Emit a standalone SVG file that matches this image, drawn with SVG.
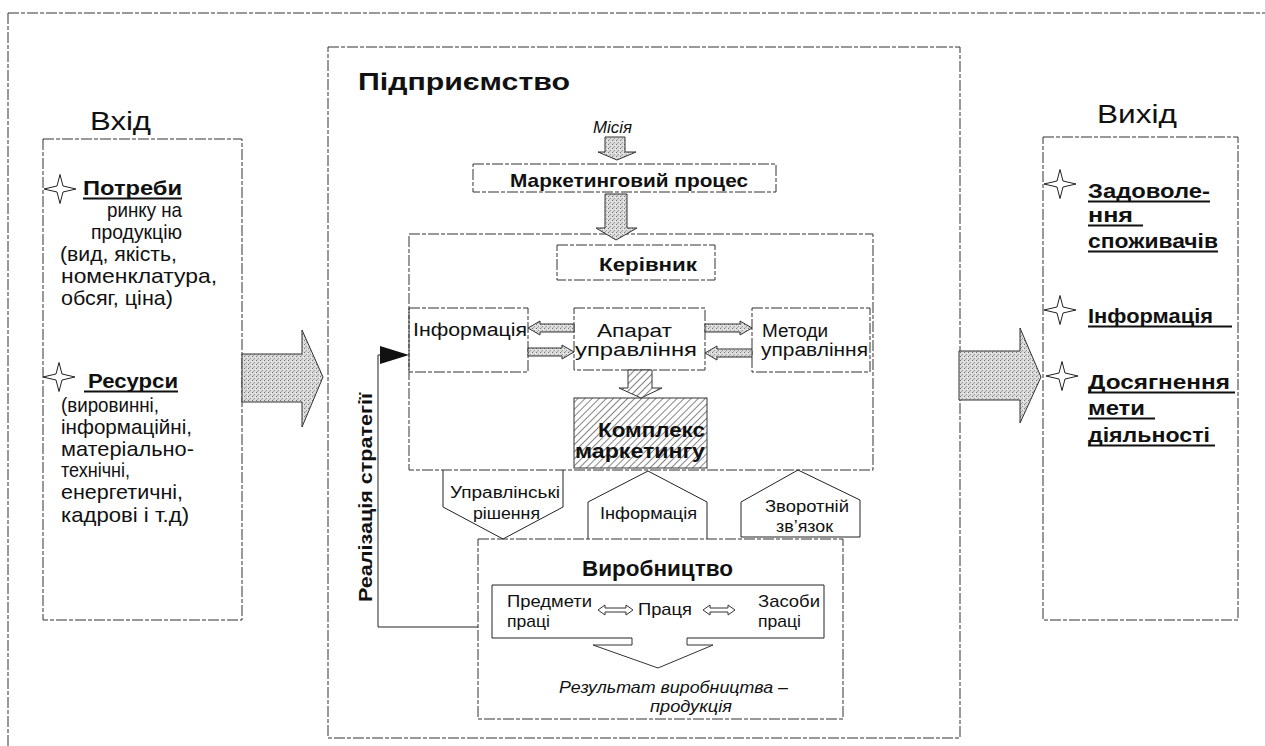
<svg xmlns="http://www.w3.org/2000/svg" xmlns:xlink="http://www.w3.org/1999/xlink" width="1265" height="746" viewBox="0 0 1265 746">
<style>
text{font-family:"Liberation Sans",Arial,sans-serif;fill:#111}
.b{font-weight:bold}
.i{font-style:italic}
.box{fill:none;stroke:#333;stroke-width:1;stroke-dasharray:11 2 4 2}
.wbox{fill:#fff;stroke:#333;stroke-width:1;stroke-dasharray:11 2 4 2}
.ln{fill:none;stroke:#222;stroke-width:1}
.ul{stroke:#111;stroke-width:2}
.star{fill:#fff;stroke:#222;stroke-width:1}
.stip{fill:url(#stip);stroke:#333;stroke-width:1}
.hol{fill:#fff;stroke:#333;stroke-width:1}
</style>
<defs>
<pattern id="stip" width="4" height="4" patternUnits="userSpaceOnUse">
<rect width="4" height="4" fill="#dadada"/>
<rect x="0" y="0" width="1" height="1" fill="#777"/>
<rect x="2" y="2" width="1" height="1" fill="#999"/>
<rect x="3" y="1" width="1" height="1" fill="#f4f4f4"/>
<rect x="1" y="3" width="1" height="1" fill="#aaa"/>
</pattern>
<pattern id="hatch" width="5" height="5" patternUnits="userSpaceOnUse" patternTransform="rotate(45)">
<rect width="5" height="5" fill="#fff"/>
<line x1="0" y1="0" x2="0" y2="5" stroke="#333" stroke-width="1.2"/>
</pattern>
<path id="star" class="star" d="M0,-14.5 L3,-3 L16,0 L3,3 L0,14.5 L-3,3 L-16,0 L-3,-3 Z"/>
</defs>
<rect width="1265" height="746" fill="#fff"/>
<g id="frame">
<line class="box" x1="8" y1="13" x2="1265" y2="13"/>
<line class="box" x1="8" y1="13" x2="8" y2="746"/>
</g>

<g id="input">
<text x="90" y="130" font-size="25" textLength="61" lengthAdjust="spacingAndGlyphs">Вхід</text>
<rect class="box" x="43" y="139" width="199" height="481"/>
<use xlink:href="#star" x="60" y="189"/>
<text class="b" x="83" y="195" font-size="21" textLength="99" lengthAdjust="spacingAndGlyphs">Потреби</text>
<line class="ul" x1="83" y1="198.5" x2="182" y2="198.5"/>
<text x="107" y="217" font-size="21" textLength="75" lengthAdjust="spacingAndGlyphs">ринку на</text>
<text x="91" y="239" font-size="21" textLength="91" lengthAdjust="spacingAndGlyphs">продукцію</text>
<text x="60" y="261" font-size="21" textLength="117" lengthAdjust="spacingAndGlyphs">(вид, якість,</text>
<text x="61" y="283" font-size="21" textLength="156" lengthAdjust="spacingAndGlyphs">номенклатура,</text>
<text x="61" y="305" font-size="21" textLength="112" lengthAdjust="spacingAndGlyphs">обсяг, ціна)</text>
<use xlink:href="#star" x="59" y="377"/>
<text class="b" x="88" y="388" font-size="21" textLength="90" lengthAdjust="spacingAndGlyphs">Ресурси</text>
<line class="ul" x1="84" y1="391.5" x2="178" y2="391.5"/>
<text x="61" y="412" font-size="21" textLength="98" lengthAdjust="spacingAndGlyphs">(вировинні,</text>
<text x="61" y="434" font-size="21" textLength="131" lengthAdjust="spacingAndGlyphs">інформаційні,</text>
<text x="61" y="456" font-size="21" textLength="133" lengthAdjust="spacingAndGlyphs">матеріально-</text>
<text x="61" y="477" font-size="21" textLength="69" lengthAdjust="spacingAndGlyphs">технічні,</text>
<text x="61" y="499" font-size="21" textLength="122" lengthAdjust="spacingAndGlyphs">енергетичні,</text>
<text x="61" y="522" font-size="21" textLength="128" lengthAdjust="spacingAndGlyphs">кадрові і т.д)</text>
</g>

<g id="enterprise">
<rect class="box" x="328" y="47" width="632" height="691"/>
<text class="b" x="358" y="90" font-size="24" textLength="212" lengthAdjust="spacingAndGlyphs">Підприємство</text>
</g>

<g id="mission">
<text class="i" x="593" y="133" font-size="17" textLength="39" lengthAdjust="spacingAndGlyphs">Місія</text>
</g>

<g id="marketing-process">
<rect class="box" x="473" y="164" width="303" height="28"/>
<text class="b" x="510" y="187" font-size="19" textLength="238" lengthAdjust="spacingAndGlyphs">Маркетинговий процес</text>
</g>

<g id="management">
<rect class="box" x="409" y="234" width="464" height="236"/>
</g>

<g id="kerivnyk">
<rect class="box" x="557" y="245" width="158" height="35"/>
<text class="b" x="599" y="271" font-size="19" textLength="98" lengthAdjust="spacingAndGlyphs">Керівник</text>
</g>

<g id="informatsiya">
<rect class="box" x="409" y="308" width="119" height="64"/>
<text x="413" y="336" font-size="18" textLength="114" lengthAdjust="spacingAndGlyphs">Інформація</text>
</g>

<g id="aparat">
<rect class="box" x="574" y="308" width="131" height="62"/>
<text x="597" y="337" font-size="18" textLength="75" lengthAdjust="spacingAndGlyphs">Апарат</text>
<text x="575" y="356" font-size="18" textLength="122" lengthAdjust="spacingAndGlyphs">управління</text>
</g>

<g id="metody">
<rect class="box" x="752" y="308" width="118" height="64"/>
<text x="762" y="337" font-size="18" textLength="66" lengthAdjust="spacingAndGlyphs">Методи</text>
<text x="761" y="356" font-size="18" textLength="107" lengthAdjust="spacingAndGlyphs">управління</text>
</g>

<g id="kompleks">
<rect x="574" y="398" width="133" height="70" fill="url(#hatch)" stroke="#333" stroke-width="1"/>
<text class="b" x="598" y="437" font-size="20" textLength="107" lengthAdjust="spacingAndGlyphs">Комплекс</text>
<text class="b" x="575" y="458" font-size="20" textLength="130" lengthAdjust="spacingAndGlyphs">маркетингу</text>
</g>

<g id="rishennya">
<path class="ln" d="M443,470 L443,507 L503,539 L563,507 L563,470"/>
<text x="450" y="498" font-size="16" textLength="110" lengthAdjust="spacingAndGlyphs">Управлінські</text>
<text x="473" y="519" font-size="16" textLength="67" lengthAdjust="spacingAndGlyphs">рішення</text>
</g>

<g id="informatsiya2">
<path class="ln" d="M588,539 L588,502 L648,471 L707,502 L707,539"/>
<text x="600" y="519" font-size="16" textLength="97" lengthAdjust="spacingAndGlyphs">Інформація</text>
</g>

<g id="zvorotniy">
<path class="ln" d="M741,537 L741,502 L798,470 L860,500 L860,537 Z"/>
<text x="765" y="512" font-size="16" textLength="84" lengthAdjust="spacingAndGlyphs">Зворотній</text>
<text x="776" y="532" font-size="16" textLength="57" lengthAdjust="spacingAndGlyphs">зв’язок</text>
</g>

<g id="vyrobnytstvo">
<rect class="box" x="478" y="539" width="365" height="180"/>
<text class="b" x="582" y="576" font-size="22" textLength="151" lengthAdjust="spacingAndGlyphs">Виробництво</text>
<path class="ln" d="M632,638 L492,638 L492,585 L824,585 L824,638 L687,638"/>
<path class="hol" d="M632,638 L632,645 L593,645 L658,668 L713,645 L687,645 L687,638"/>
<text x="507" y="607" font-size="17" textLength="85" lengthAdjust="spacingAndGlyphs">Предмети</text>
<text x="507" y="627" font-size="17" textLength="43" lengthAdjust="spacingAndGlyphs">праці</text>
<text x="638" y="615" font-size="17" textLength="54" lengthAdjust="spacingAndGlyphs">Праця</text>
<text x="758" y="607" font-size="17" textLength="62" lengthAdjust="spacingAndGlyphs">Засоби</text>
<text x="758" y="627" font-size="17" textLength="43" lengthAdjust="spacingAndGlyphs">праці</text>
<text class="i" x="559" y="693" font-size="17" textLength="229" lengthAdjust="spacingAndGlyphs">Результат виробництва –</text>
<text class="i" x="650" y="712" font-size="17" textLength="82" lengthAdjust="spacingAndGlyphs">продукція</text>
</g>

<g id="output">
<text x="1097" y="123" font-size="25" textLength="80" lengthAdjust="spacingAndGlyphs">Вихід</text>
<rect class="box" x="1043" y="137" width="195" height="483"/>
<use xlink:href="#star" x="1060" y="184"/>
<use xlink:href="#star" x="1060" y="310"/>
<use xlink:href="#star" x="1062" y="376"/>
<text class="b" x="1088" y="198" font-size="21" textLength="122" lengthAdjust="spacingAndGlyphs">Задоволе-</text>
<line class="ul" x1="1088" y1="201.5" x2="1210" y2="201.5"/>
<text class="b" x="1088" y="222" font-size="21" textLength="45" lengthAdjust="spacingAndGlyphs">ння</text>
<line class="ul" x1="1088" y1="225.5" x2="1143" y2="225.5"/>
<text class="b" x="1088" y="248" font-size="21" textLength="130" lengthAdjust="spacingAndGlyphs">споживачів</text>
<line class="ul" x1="1088" y1="251.5" x2="1218" y2="251.5"/>
<text class="b" x="1088" y="323" font-size="21" textLength="125" lengthAdjust="spacingAndGlyphs">Інформація</text>
<line class="ul" x1="1088" y1="326.5" x2="1232" y2="326.5"/>
<text class="b" x="1088" y="389" font-size="21" textLength="142" lengthAdjust="spacingAndGlyphs">Досягнення</text>
<line class="ul" x1="1088" y1="392.5" x2="1235" y2="392.5"/>
<text class="b" x="1088" y="415" font-size="21" textLength="57" lengthAdjust="spacingAndGlyphs">мети</text>
<line class="ul" x1="1088" y1="418.5" x2="1155" y2="418.5"/>
<text class="b" x="1088" y="442" font-size="21" textLength="122" lengthAdjust="spacingAndGlyphs">діяльності</text>
<line class="ul" x1="1088" y1="445.5" x2="1215" y2="445.5"/>
</g>

<g id="connectors">
<!-- big input/output arrows -->
<path class="stip" d="M242,354 L302,354 L302,330 L323,377 L302,427 L302,402 L242,402 Z"/>
<path class="stip" d="M959,351 L1020,351 L1020,328 L1041,377 L1020,423 L1020,400 L959,400 Z"/>
<!-- mission -> marketing process -->
<path class="stip" d="M605,137 L625,137 L625,152 L636,152 L617,160 L598,152 L605,152 Z"/>
<!-- marketing process -> management -->
<path class="stip" d="M605,194 L627,194 L627,228 L637,228 L616,240 L596,228 L605,228 Z"/>
<!-- management inner arrows -->
<path class="stip" d="M528,328 L540,321 L540,324 L574,324 L574,332 L540,332 L540,335 Z"/>
<path class="stip" d="M574,352 L562,345 L562,348 L528,348 L528,356 L562,356 L562,359 Z"/>
<path class="stip" d="M752,328 L740,321 L740,324 L705,324 L705,332 L740,332 L740,335 Z"/>
<path class="stip" d="M705,353 L717,346 L717,349 L752,349 L752,357 L717,357 L717,360 Z"/>
<!-- aparat -> kompleks hatched -->
<path d="M628,370 L652,370 L652,388 L662,388 L641,398 L619,388 L628,388 Z" fill="url(#hatch)" stroke="#333" stroke-width="1"/>
<!-- production inner double arrows -->
<path class="hol" d="M598,610 L605,605 L605,608 L626,608 L626,605 L633,610 L626,615 L626,612 L605,612 L605,615 Z"/>
<path class="hol" d="M703,610 L710,605 L710,608 L728,608 L728,605 L735,610 L728,615 L728,612 L710,612 L710,615 Z"/>
<!-- strategy feedback loop -->
<path class="ln" d="M478,627 L378,627 L378,355 L382,355"/>
<path d="M380,346 L409,355 L380,364 Z" fill="#111"/>
</g>

<g id="strategy-label">
<text class="b" transform="translate(372,602) rotate(-90)" font-size="19" textLength="209" lengthAdjust="spacingAndGlyphs">Реалізація стратегії</text>
</g>
</svg>
